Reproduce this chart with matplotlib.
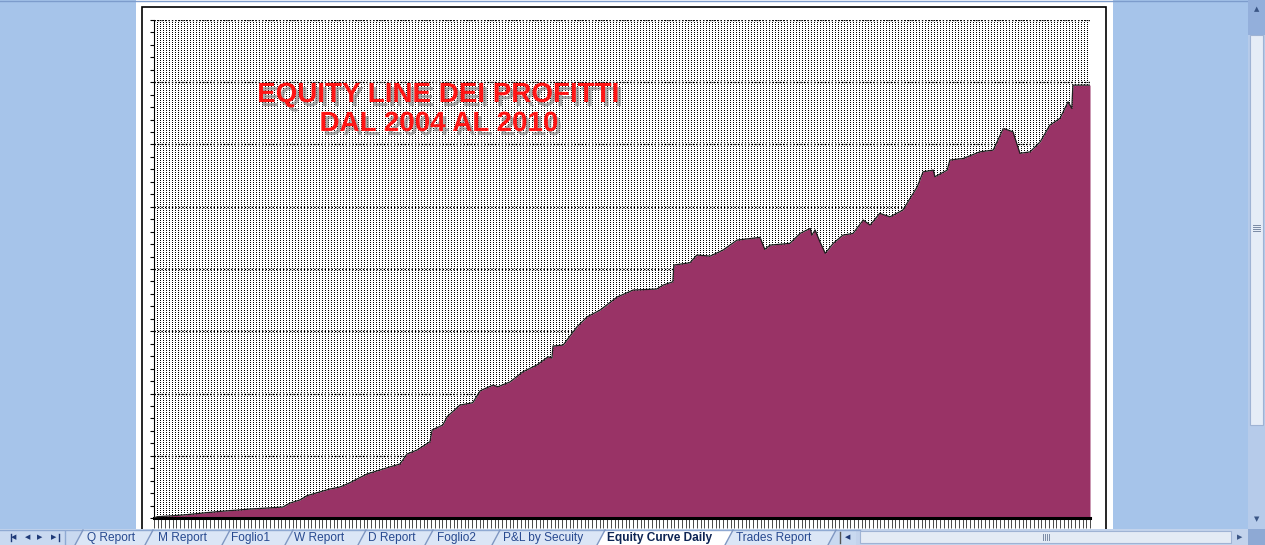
import matplotlib.pyplot as plt
import matplotlib.patheffects as pe
from matplotlib.patches import Rectangle, Polygon
from matplotlib.lines import Line2D
import numpy as np

W, H = 1265, 545  # figure size in px

# trading day index and equity (chart units, one dotted gridline every 5)
days = [0, 6, 54, 118, 180, 241, 254, 273, 286, 305, 329, 348, 366, 398, 428,
        441, 460, 473, 492, 516, 520, 540, 548, 572, 596, 610, 634, 643, 666,
        690, 716, 737, 744, 746, 765, 791, 810, 834, 866, 896, 940, 952, 970,
        972, 1002, 1015, 1040, 1064, 1090, 1133, 1142, 1152, 1189, 1208, 1227,
        1230, 1236, 1245, 1255, 1270, 1288, 1307, 1326, 1339, 1357, 1376, 1400,
        1427, 1438, 1457, 1460, 1483, 1488, 1513, 1544, 1569, 1588, 1606, 1619,
        1638, 1657, 1675, 1694, 1709, 1716, 1718, 1750]
equity = [0.0, 0.10, 0.24, 0.51, 0.72, 0.88, 1.20, 1.45, 1.79, 2.03, 2.33, 2.49,
          2.83, 3.53, 3.93, 4.10, 4.34, 5.14, 5.46, 6.13, 7.07, 7.47, 8.13, 9.07,
          9.26, 10.22, 10.68, 10.54, 10.94, 11.75, 12.29, 12.95, 12.85, 13.81,
          13.89, 15.36, 16.16, 16.70, 17.75, 18.31, 18.39, 18.71, 18.97, 20.32,
          20.50, 21.12, 21.04, 21.52, 22.32, 22.54, 21.58, 21.92, 22.06, 22.86,
          23.26, 22.72, 23.13, 22.19, 21.26, 22.06, 22.72, 22.86, 23.93, 23.53,
          24.47, 24.19, 24.73, 26.60, 27.81, 27.94, 27.41, 27.94, 28.75, 28.88,
          29.41, 29.55, 31.29, 31.02, 29.29, 29.41, 30.22, 31.56, 32.10, 33.43,
          32.90, 34.77, 34.77]

title_lines = ['EQUITY LINE DEI PROFITTI', 'DAL 2004 AL 2010']

tab_names = ['Q Report', 'M Report', 'Foglio1', 'W Report', 'D Report',
             'Foglio2', 'P&L by Secuity', 'Equity Curve Daily', 'Trades Report']
active_tab = 'Equity Curve Daily'

# layout (pixels)
tab_centers = [111, 182, 251, 319, 392, 457, 543, 660, 774]
tab_edges = [75, 145, 222, 285, 358, 425, 492, 597, 725, 828]

WIN_BLUE = '#a6c4ea'
PLUM = '#993366'
PLOT_W, PLOT_H = 936, 498

fig = plt.figure(figsize=(W / 100, H / 100), dpi=100, facecolor=WIN_BLUE)

# ---- background: page and chart object frame
bg = fig.add_axes([0, 0, 1, 1], zorder=0)
bg.set_xlim(0, W)
bg.set_ylim(H, 0)
bg.axis('off')
bg.add_patch(Rectangle((136, 0), 977, 530, facecolor='white', edgecolor='none'))
bg.add_patch(Rectangle((141.5, 6.5), 964, 540, facecolor='white',
                       edgecolor='black', lw=1.2))
bg.add_line(Line2D([0, W], [0.5, 0.5], color='#7d9ccc', lw=1))

# ---- the chart itself
ax = fig.add_axes([154 / W, (H - 518) / H, PLOT_W / W, PLOT_H / H], zorder=1)
ax.set_facecolor('white')

# excel's dense dotted category gridlines, as a pixel texture
texture = np.ones((PLOT_H, PLOT_W))
col_on = np.isin(np.arange(PLOT_W) % 6, [0, 3])
row_on = (np.arange(PLOT_H) % 2) == 0
texture[np.ix_(row_on, col_on)] = 0.0
ax.imshow(texture, cmap='gray', vmin=0, vmax=1, interpolation='nearest',
          extent=(0, 1750, 0, 40), aspect='auto', zorder=0)

ax.fill_between(days, equity, 0, color=PLUM, lw=0, zorder=2)
ax.plot(days, equity, color='#1e1e1e', lw=0.9, zorder=3)

ax.set_xlim(0, 1750)
ax.set_ylim(0, 40)
ax.set_axisbelow(True)

ax.set_xticks(np.arange(0, 1751, 7))
ax.set_yticks(np.arange(0, 41, 5))
ax.set_yticks(np.arange(0, 41, 1), minor=True)
ax.tick_params(axis='x', direction='out', length=7, width=0.5, color='black',
               labelbottom=False)
ax.tick_params(axis='y', which='both', direction='out', length=3, width=0.8,
               color='black', labelleft=False)
ax.grid(axis='y', which='major', color='black', linestyle=(0, (1, 1.5)),
        linewidth=1.0, zorder=1)

for side in ['top', 'right']:
    ax.spines[side].set_visible(False)
ax.spines['left'].set_linewidth(0.8)
ax.spines['bottom'].set_linewidth(2.2)

shadow = [pe.withSimplePatchShadow(offset=(2.5, -3), shadow_rgbFace='#777777',
                                   alpha=0.6)]
for txt, cx, cy in zip(title_lines, [438, 439], [95, 124]):
    fig.text(cx / W, 1 - cy / H, txt, color='#ff1414',
             family='Liberation Sans', weight='bold', fontsize=20,
             ha='center', va='center', path_effects=shadow, zorder=5)

# ---- window chrome (tabs, scrollbars)
ui = fig.add_axes([0, 0, 1, 1], zorder=4)
ui.set_xlim(0, W)
ui.set_ylim(H, 0)
ui.axis('off')
ui.patch.set_alpha(0)

# tab strip
ui.add_patch(Rectangle((0, 529), 860, 16, facecolor='#c9d9f0', edgecolor='none'))
ui.add_line(Line2D([0, 860], [529.5, 529.5], color='#8fa9d2', lw=1))
ui.add_line(Line2D([65, 65], [531, 544], color='#8fa9d2', lw=1))

nav = ['\u25c0', '\u25c0', '\u25b6', '\u25b6']
for x, s in zip([14, 28, 40, 54], nav):
    ui.text(x, 537.5, s, fontsize=5, color='#1f3a78', ha='center', va='center',
            family='DejaVu Sans')
ui.add_line(Line2D([10.5, 10.5], [534, 541], color='#1f3a78', lw=1))
ui.add_line(Line2D([58.5, 58.5], [534, 541], color='#1f3a78', lw=1))

for i, name in enumerate(tab_names):
    left, right = tab_edges[i], tab_edges[i + 1]
    face = '#ffffff' if name == active_tab else '#dbe6f6'
    ui.add_patch(Polygon([(left, 545), (left + 8, 530), (right + 8, 530),
                          (right, 545)], closed=True, facecolor=face,
                         edgecolor='none'))
for i, name in enumerate(tab_names):
    is_active = name == active_tab
    ui.text(tab_centers[i], 537.5, name, fontsize=8.6,
            family='Liberation Sans', ha='center', va='center',
            weight='bold' if is_active else 'normal',
            color='#0d2454' if is_active else '#27498f')
for x in tab_edges:
    ui.add_line(Line2D([x, x + 8], [545, 530], color='#7f97c2', lw=1))

# little tab scroller stub
ui.add_line(Line2D([839.5, 839.5], [532, 543], color='#555555', lw=1))
ui.text(848, 537.5, '\u25c0', fontsize=5, color='#1f3a78', ha='center',
        va='center', family='DejaVu Sans')

# horizontal scrollbar
ui.add_patch(Rectangle((856, 529), 409, 16, facecolor='#c3d3ec', edgecolor='none'))
ui.add_patch(Rectangle((860, 531), 371, 12, facecolor='#e4ebf5',
                       edgecolor='#9fb3d4', lw=0.8))
for gx in [1043, 1045, 1047, 1049]:
    ui.add_line(Line2D([gx, gx], [534, 540], color='#7a8aa5', lw=0.7))
ui.text(1240, 537.5, '\u25b6', fontsize=5, color='#3b5686', ha='center',
        va='center', family='DejaVu Sans')
ui.add_patch(Rectangle((1248, 529), 17, 16, facecolor='#8ea9d4', edgecolor='none'))

# vertical scrollbar
ui.add_patch(Rectangle((1248, 0), 17, 529, facecolor='#b6cbea', edgecolor='none'))
ui.add_patch(Rectangle((1248, 0), 17, 35, facecolor='#93afdb', edgecolor='none'))
ui.text(1256.5, 9, '\u25b2', fontsize=5, color='#3b5686', ha='center',
        va='center', family='DejaVu Sans')
ui.add_patch(Rectangle((1250, 35), 13, 390, facecolor='#e6edf7',
                       edgecolor='#9fb3d4', lw=0.8))
for gy in [225, 227, 229, 231]:
    ui.add_line(Line2D([1253, 1260], [gy, gy], color='#7a8aa5', lw=0.7))
ui.text(1256.5, 519, '\u25bc', fontsize=5, color='#3b5686', ha='center',
        va='center', family='DejaVu Sans')

fig.savefig('out.png', dpi=100, facecolor=fig.get_facecolor())
